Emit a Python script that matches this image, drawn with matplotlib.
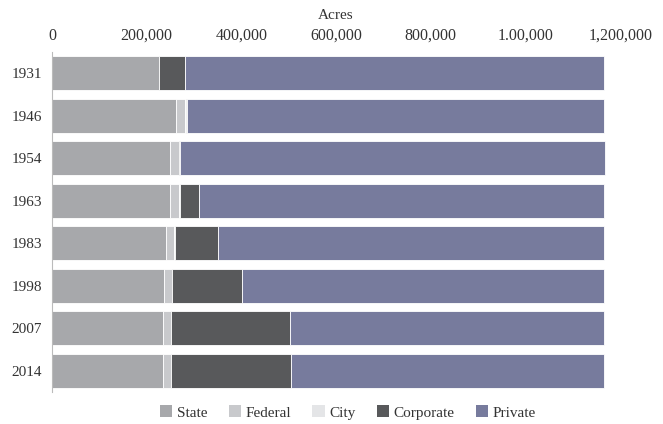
import numpy as np
import matplotlib
matplotlib.use("Agg")
import matplotlib.pyplot as plt
from matplotlib.patches import Patch

plt.rcParams['font.family'] = ['Liberation Serif', 'DejaVu Serif']

years = ["1931", "1946", "1954", "1963", "1983", "1998", "2007", "2014"]
state = [226000, 262000, 249000, 250000, 240000, 237000, 235000, 235000]
federal = [0, 19000, 19000, 19000, 18000, 16000, 16000, 16000]
city = [1000, 1000, 1000, 1000, 1000, 1000, 1000, 1000]
corporate = [54000, 3000, 2000, 41000, 91000, 147000, 251000, 253000]
totals = [1165000, 1165000, 1167000, 1165000, 1165000, 1165000, 1165000, 1165000]
private = [t - s - f - c - k for t, s, f, c, k in zip(totals, state, federal, city, corporate)]

series = [("State", state, "#a7a8ab"),
          ("Federal", federal, "#c8c9cc"),
          ("City", city, "#e4e5e7"),
          ("Corporate", corporate, "#58595b"),
          ("Private", private, "#777b9d")]

xticks = [0, 200000, 400000, 600000, 800000, 1000000, 1200000]
xtick_labels = ["0", "200,000", "400,000", "600,000", "800,000", "1.00,000", "1,200,000"]

fig = plt.figure(figsize=(6.63, 4.24), dpi=100)
ax = fig.add_axes([0.0784, 0.075, 0.857, 0.802])

y = np.arange(len(years))
left = np.zeros(len(years))
for name, vals, color in series:
    ax.barh(y, vals, left=left, height=0.8, color=color,
            edgecolor="white", linewidth=0.6, label=name)
    left += np.array(vals)

ax.set_xlim(0, 1200000)
ax.set_ylim(len(years) - 0.5, -0.5)
ax.set_yticks(y)
ax.set_yticklabels(years, fontsize=11, color="#333333")
ax.xaxis.tick_top()
ax.xaxis.set_label_position("top")
ax.set_xticks(xticks)
ax.set_xticklabels(xtick_labels, fontsize=11.5, color="#333333")
ax.set_xlabel("Acres", fontsize=11, color="#333333", labelpad=6)
ax.tick_params(axis="both", length=0)
ax.tick_params(axis="x", pad=6)
ax.tick_params(axis="y", pad=7)

for s in ["top", "right", "bottom"]:
    ax.spines[s].set_visible(False)
ax.spines["left"].set_color("#bbbbbb")
ax.spines["left"].set_linewidth(0.8)

handles = [Patch(facecolor=c, edgecolor="none") for _, _, c in series]
fig.legend(handles, [n for n, _, _ in series], loc="lower center",
           bbox_to_anchor=(0.525, -0.022), ncol=5, frameon=False,
           fontsize=11, handlelength=0.8, handleheight=0.8,
           handletextpad=0.3, columnspacing=1.4, labelcolor="#333333")

fig.savefig("out.png", dpi=100)
